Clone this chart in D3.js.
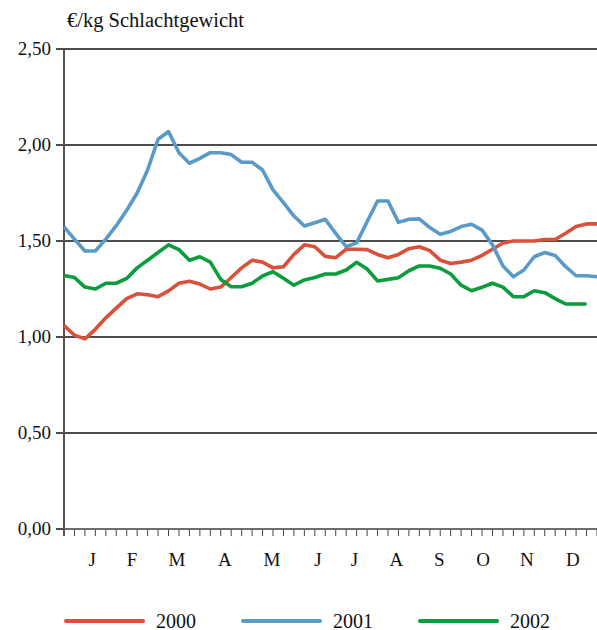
<!DOCTYPE html>
<html>
<head>
<meta charset="utf-8">
<script src="https://cdn.jsdelivr.net/npm/d3@7"></script>
<style>
  body { margin: 0; background: #fff; }
  svg text { font-family: "Liberation Serif", "Tinos", "Times New Roman", "DejaVu Serif", serif; }
</style>
</head>
<body>
<svg id="chart" width="597" height="630"></svg>
<script>
// weekly prices, €/kg Schlachtgewicht
const weeks = d3.range(1, 53);
const series2000 = [1.06, 1.01, 0.99, 1.04, 1.10, 1.15, 1.20, 1.225, 1.22, 1.21, 1.24, 1.28, 1.29, 1.276, 1.25, 1.26,
  1.31, 1.36, 1.40, 1.39, 1.36, 1.366, 1.43, 1.48, 1.47, 1.42, 1.413, 1.457, 1.457, 1.455, 1.43, 1.413, 1.43, 1.46,
  1.47, 1.45, 1.40, 1.383, 1.39, 1.40, 1.425, 1.457, 1.49, 1.50, 1.50, 1.50, 1.508, 1.508, 1.54, 1.575, 1.589, 1.589];
const series2001 = [1.574, 1.51, 1.448, 1.448, 1.51, 1.58, 1.66, 1.75, 1.87, 2.03, 2.07, 1.96, 1.905, 1.93, 1.96, 1.96,
  1.95, 1.91, 1.91, 1.87, 1.766, 1.70, 1.63, 1.578, 1.595, 1.613, 1.54, 1.47, 1.49, 1.60, 1.708, 1.708, 1.597, 1.613,
  1.615, 1.57, 1.535, 1.55, 1.575, 1.587, 1.557, 1.48, 1.37, 1.314, 1.349, 1.418, 1.44, 1.424, 1.366, 1.319, 1.319, 1.314];
const series2002 = [1.32, 1.31, 1.26, 1.25, 1.28, 1.28, 1.305, 1.36, 1.40, 1.44, 1.48, 1.455, 1.40, 1.418, 1.39, 1.30,
  1.262, 1.262, 1.28, 1.318, 1.34, 1.306, 1.27, 1.297, 1.31, 1.328, 1.328, 1.349, 1.389, 1.354, 1.292, 1.30, 1.309, 1.345,
  1.37, 1.37, 1.358, 1.328, 1.27, 1.241, 1.259, 1.28, 1.26, 1.21, 1.21, 1.241, 1.231, 1.20, 1.172, 1.172, 1.172];
const yTicks = [0, 0.5, 1, 1.5, 2, 2.5];
const months = ["J", "F", "M", "A", "M", "J", "J", "A", "S", "O", "N", "D"];
// label position of each month, in weeks
const monthPos = [2.7, 6.5, 10.8, 15.4, 19.9, 24.3, 27.8, 31.8, 35.9, 40.1, 44.3, 48.7];
const years = ["2000", "2001", "2002"];
const colors = ["#d9513b", "#5a9ac6", "#0b9c3e"];

const serif = '"Liberation Serif", "Tinos", "Times New Roman", "DejaVu Serif", serif';
const svg = d3.select("#chart");

const x = d3.scaleLinear().domain([1, 52]).range([64, 597]);
const y = d3.scaleLinear().domain([0, 2.5]).range([529, 49]);

// gridlines
svg.append("g")
    .selectAll("line")
    .data(yTicks.filter(d => d > 0))
    .enter().append("line")
    .attr("x1", 56).attr("x2", 597)
    .attr("y1", d => y(d)).attr("y2", d => y(d))
    .attr("stroke", "#111").attr("stroke-width", 1.3);

// y tick labels
svg.append("g")
    .selectAll("text")
    .data(yTicks)
    .enter().append("text")
    .attr("x", 51)
    .attr("y", d => y(d) + 6)
    .attr("text-anchor", "end")
    .attr("font-family", serif)
    .attr("font-size", "19px")
    .attr("fill", "#111")
    .text(d => d3.format(".2f")(d).replace(".", ","));

// y tick for 0
svg.append("line")
    .attr("x1", 56).attr("x2", 64)
    .attr("y1", y(0)).attr("y2", y(0))
    .attr("stroke", "#111").attr("stroke-width", 1.5);

// x axis ticks (weekly)
svg.append("g")
    .selectAll("line")
    .data(weeks.slice(1))
    .enter().append("line")
    .attr("x1", d => x(d)).attr("x2", d => x(d))
    .attr("y1", y(0)).attr("y2", y(0) + 7)
    .attr("stroke", "#444").attr("stroke-width", 1);

// x axis line
svg.append("line")
    .attr("x1", 64).attr("x2", 597)
    .attr("y1", y(0)).attr("y2", y(0))
    .attr("stroke", "#6e6e6e").attr("stroke-width", 2.2);

// y axis line
svg.append("line")
    .attr("x1", 64).attr("x2", 64)
    .attr("y1", y(2.5)).attr("y2", y(0) + 7)
    .attr("stroke", "#555").attr("stroke-width", 2);

// month labels
svg.append("g")
    .selectAll("text")
    .data(months)
    .enter().append("text")
    .attr("x", (d, i) => x(monthPos[i] + 1))
    .attr("y", 566)
    .attr("text-anchor", "middle")
    .attr("font-family", serif)
    .attr("font-size", "19px")
    .attr("fill", "#111")
    .text(d => d);

// title
svg.append("text")
    .attr("x", 67).attr("y", 27)
    .attr("font-family", serif)
    .attr("font-size", "20.5px")
    .attr("fill", "#111")
    .text("€/kg Schlachtgewicht");

// lines
const line = d3.line()
    .x((d, i) => x(weeks[i]))
    .y(d => y(d));

[series2000, series2001, series2002].forEach((s, i) => {
    svg.append("path")
        .datum(s)
        .attr("d", line)
        .attr("fill", "none")
        .attr("stroke", colors[i])
        .attr("stroke-width", 3.6)
        .attr("stroke-linejoin", "round");
});

// legend
const legend = svg.append("g").attr("transform", "translate(0, 621)");
years.forEach((yr, i) => {
    legend.append("line")
        .attr("x1", 66 + i * 177).attr("x2", 143 + i * 177)
        .attr("y1", 0).attr("y2", 0)
        .attr("stroke", colors[i])
        .attr("stroke-width", 4)
        .attr("stroke-linecap", "round");
    legend.append("text")
        .attr("x", 156 + i * 177)
        .attr("y", 6.5)
        .attr("font-family", serif)
        .attr("font-size", "20px")
        .attr("fill", "#111")
        .text(yr);
});
</script>
</body>
</html>
